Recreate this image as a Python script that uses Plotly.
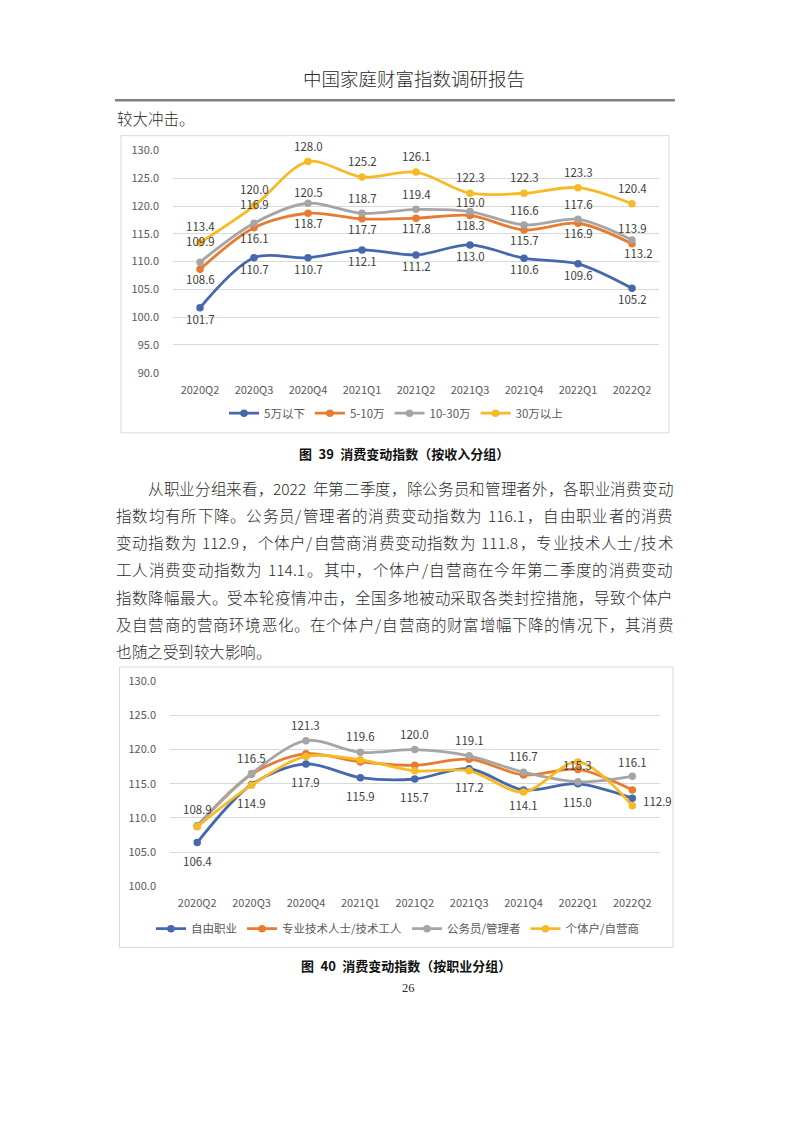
import plotly.graph_objects as go

W, H = 793, 1122

quarters = ["2020Q2", "2020Q3", "2020Q4", "2021Q1", "2021Q2",
            "2021Q3", "2021Q4", "2022Q1", "2022Q2"]

# Figure 39: by income group
inc_names = ["5万以下", "5-10万", "10-30万", "30万以上"]
inc_below5 = [101.7, 110.7, 110.7, 112.1, 111.2, 113.0, 110.6, 109.6, 105.2]
inc_5_10 = [108.6, 116.1, 118.7, 117.7, 117.8, 118.3, 115.7, 116.9, 113.2]
inc_10_30 = [109.9, 116.9, 120.5, 118.7, 119.4, 119.0, 116.6, 117.6, 113.9]
inc_above30 = [113.4, 120.0, 128.0, 125.2, 126.1, 122.3, 122.3, 123.3, 120.4]
y1_ticks = [90, 95, 100, 105, 110, 115, 120, 125, 130]

# Figure 40: by occupation group
occ_names = ["自由职业", "专业技术人士/技术工人", "公务员/管理者", "个体户/自营商"]
occ_free = [106.4, 114.9, 117.9, 115.9, 115.7, 117.2, 114.1, 115.0, 112.9]
occ_prof = [108.8, 116.4, 119.4, 118.2, 117.7, 118.6, 116.3, 117.1, 114.1]
occ_civil = [108.9, 116.5, 121.3, 119.6, 120.0, 119.1, 116.7, 115.3, 116.1]
occ_self = [108.7, 114.8, 119.0, 118.5, 116.9, 116.9, 113.8, 118.2, 111.8]
y2_ticks = [100, 105, 110, 115, 120, 125, 130]

header_text = "中国家庭财富指数调研报告"
lead_text = "较大冲击。"
caption1 = "图\u200239\u2002消费变动指数（按收入分组）"
caption2 = "图\u200240\u2002消费变动指数（按职业分组）"
page_no = "26"
body_lines = [
    "从职业分组来看，2022 年第二季度，除公务员和管理者外，各职业消费变动",
    "指数均有所下降。公务员/管理者的消费变动指数为 116.1，自由职业者的消费",
    "变动指数为 112.9，个体户/自营商消费变动指数为 111.8，专业技术人士/技术",
    "工人消费变动指数为 114.1。其中，个体户/自营商在今年第二季度的消费变动",
    "指数降幅最大。受本轮疫情冲击，全国多地被动采取各类封控措施，导致个体户",
    "及自营商的营商环境恶化。在个体户/自营商的财富增幅下降的情况下，其消费",
    "也随之受到较大影响。",
]

C_BLUE = "#4568AC"
C_ORANGE = "#E97B31"
C_GRAY = "#A5A5A5"
C_YELLOW = "#F7BA27"
CJK = "Noto Sans CJK SC"


def px(x):
    return x / W


def py(y):
    return 1 - y / H


fig = go.Figure()

inc_series = [inc_below5, inc_5_10, inc_10_30, inc_above30]
occ_series = [occ_free, occ_prof, occ_civil, occ_self]
colors = [C_BLUE, C_ORANGE, C_GRAY, C_YELLOW]

for name, vals, col in zip(inc_names, inc_series, colors):
    fig.add_trace(go.Scatter(
        x=quarters, y=vals, name=name, mode="lines+markers",
        line=dict(color=col, width=2.8, shape="spline", smoothing=0.9),
        marker=dict(color=col, size=7.5),
        xaxis="x", yaxis="y", legend="legend", hoverinfo="skip"))

for name, vals, col in zip(occ_names, occ_series, colors):
    fig.add_trace(go.Scatter(
        x=quarters, y=vals, name=name, mode="lines+markers",
        line=dict(color=col, width=2.8, shape="spline", smoothing=0.9),
        marker=dict(color=col, size=7.5),
        xaxis="x2", yaxis="y2", legend="legend2", hoverinfo="skip"))

annotations = []


def data_labels(xref, yref, vals, yshifts, xshifts=None, anchors=None, size=11.5):
    for i, (q, v) in enumerate(zip(quarters, vals)):
        annotations.append(dict(
            x=q, y=v, xref=xref, yref=yref, text=f"{v:.1f}", showarrow=False,
            xanchor=(anchors[i] if anchors else "center"), yanchor="middle",
            yshift=yshifts[i], xshift=(xshifts[i] if xshifts else 0),
            font=dict(family=CJK, size=size, color="#404040")))


# chart 1 labels
data_labels("x", "y", inc_below5, [-11] * 9)
data_labels("x", "y", inc_5_10, [-10] * 8 + [-9], xshifts=[0] * 8 + [6])
data_labels("x", "y", inc_10_30, [21, 19, 11, 15, 15, 10, 15, 15, 12])
data_labels("x", "y", inc_above30, [17, 17, 16, 16, 16, 16, 16, 16, 16])

# chart 2 labels
data_labels("x2", "y2", occ_free, [-18, -19, -18, -18, -18, -18, -15, -18, -3],
            xshifts=[0] * 8 + [9], anchors=["center"] * 8 + ["left"])
data_labels("x2", "y2", occ_civil, [16, 16, 16, 16, 16, 16, 16, 17, 14])

TXT = "#2a2a2a"
# page header and captions
annotations.append(dict(x=px(414), y=py(70), xref="paper", yref="paper",
                        text=header_text, showarrow=False, xanchor="center", yanchor="middle",
                        font=dict(family=CJK, size=18.5, color=TXT, weight=300)))
annotations.append(dict(x=px(115), y=py(111), xref="paper", yref="paper",
                        text=lead_text, showarrow=False, xanchor="left", yanchor="middle",
                        font=dict(family=CJK, size=15.5, color=TXT, weight=300)))
annotations.append(dict(x=px(404), y=py(451), xref="paper", yref="paper",
                        text=caption1, showarrow=False, xanchor="center", yanchor="middle",
                        font=dict(family=CJK, size=13, color="#111111", weight="bold")))
annotations.append(dict(x=px(406), y=py(970), xref="paper", yref="paper",
                        text=caption2, showarrow=False, xanchor="center", yanchor="middle",
                        font=dict(family=CJK, size=13, color="#111111", weight="bold")))
annotations.append(dict(x=px(408), y=py(993), xref="paper", yref="paper",
                        text=page_no, showarrow=False, xanchor="center", yanchor="middle",
                        font=dict(family="Liberation Serif", size=12.5, color=TXT)))

# body paragraph, justified token by token
FS = 15.5


def ch_w(ch):
    if ord(ch) > 0x2E80:
        return FS
    if ch.isdigit():
        return 0.55 * FS
    if ch == ".":
        return 0.28 * FS
    if ch == "/":
        return 0.45 * FS
    if ch == " ":
        return 0.3 * FS
    return 0.5 * FS


def tokenize(line):
    toks = []
    buf = ""
    for ch in line:
        if ord(ch) > 0x2E80 or ch == " " or ch == "/":
            if buf:
                toks.append(buf)
                buf = ""
            toks.append(ch)
        else:
            buf += ch
    if buf:
        toks.append(buf)
    return toks


line_y0, line_dy = 486, 27.5
left_x, right_x, indent = 115, 672, 32
for li, line in enumerate(body_lines):
    toks = tokenize(line)
    widths = [sum(ch_w(c) for c in t) for t in toks]
    x0 = left_x + (indent if li == 0 else 0)
    last = li == len(body_lines) - 1
    extra = 0 if last else ((right_x - x0) - sum(widths)) / max(len(toks) - 1, 1)
    x = x0
    for t, w in zip(toks, widths):
        if t != " ":
            annotations.append(dict(
                x=px(x), y=py(line_y0 + li * line_dy), xref="paper", yref="paper",
                text=t, showarrow=False, xanchor="left", yanchor="middle", borderpad=0,
                font=dict(family=CJK, size=FS, color=TXT, weight=300)))
        x += w + extra

shapes = [
    dict(type="line", xref="paper", yref="paper", x0=px(115), x1=px(675), y0=py(92.5), y1=py(92.5),
         line=dict(color="#808080", width=2.5)),
    dict(type="rect", xref="paper", yref="paper", x0=px(121), x1=px(669), y0=py(128.5), y1=py(430),
         line=dict(color="#D9D9D9", width=1), fillcolor="rgba(0,0,0,0)"),
    dict(type="rect", xref="paper", yref="paper", x0=px(119.5), x1=px(673), y0=py(667.5), y1=py(952),
         line=dict(color="#D9D9D9", width=1), fillcolor="rgba(0,0,0,0)"),
]

tickfont = dict(family=CJK, size=11, color="#595959")

fig.update_layout(
    width=W, height=H, margin=dict(l=0, r=0, t=0, b=0),
    paper_bgcolor="white", plot_bgcolor="white", showlegend=True,
    annotations=annotations, shapes=shapes,
    xaxis=dict(domain=[px(173), px(659)], type="category", range=[-0.5, 8.5],
               showgrid=False, showline=False, zeroline=False, ticks="",
               tickfont=tickfont, ticklabelstandoff=9, fixedrange=True),
    yaxis=dict(domain=[py(369), py(143.5)], range=[90, 130], tickvals=y1_ticks,
               ticktext=[f"{v:.1f}" for v in y1_ticks], showgrid=True, gridcolor="#D9D9D9",
               gridwidth=1, zeroline=False, showline=False, ticks="", tickfont=tickfont,
               ticklabelstandoff=13, fixedrange=True),
    xaxis2=dict(domain=[px(170), px(659.5)], type="category", range=[-0.5, 8.5],
                showgrid=False, showline=False, zeroline=False, ticks="",
                tickfont=tickfont, ticklabelstandoff=9, anchor="y2", fixedrange=True),
    yaxis2=dict(domain=[py(890), py(682)], range=[100, 130], tickvals=y2_ticks,
                ticktext=[f"{v:.1f}" for v in y2_ticks], showgrid=True, gridcolor="#D9D9D9",
                gridwidth=1, zeroline=False, showline=False, ticks="", tickfont=tickfont,
                ticklabelstandoff=13, anchor="x2", fixedrange=True),
    legend=dict(orientation="h", x=px(396), xanchor="center", y=py(410), yanchor="middle",
                font=dict(family=CJK, size=11.5, color="#595959"), itemwidth=30,
                bgcolor="rgba(0,0,0,0)", traceorder="normal"),
    legend2=dict(orientation="h", x=px(398), xanchor="center", y=py(933), yanchor="middle",
                 font=dict(family=CJK, size=11.5, color="#595959"), itemwidth=30,
                 bgcolor="rgba(0,0,0,0)", traceorder="normal"),
)

fig.write_html("out.html", config={"displayModeBar": False},
               post_script="document.body.style.margin='0';document.body.style.padding='0';")
